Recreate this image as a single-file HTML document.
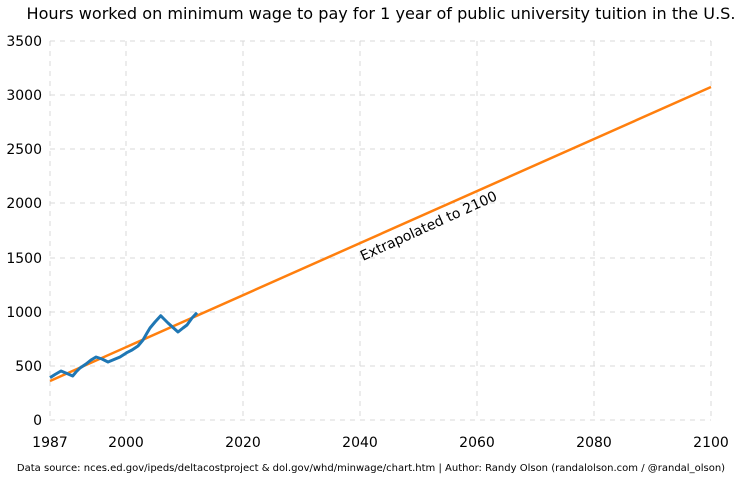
<!DOCTYPE html>
<html><head><meta charset="utf-8"><style>body{margin:0;background:#fff}</style></head><body>
<svg width="743" height="480" xmlns="http://www.w3.org/2000/svg" font-family="DejaVu Sans, Liberation Sans, sans-serif">
<rect width="743" height="480" fill="#fff"/>
<g stroke="#d8d8d8" stroke-dasharray="5,5" stroke-width="1">
<line x1="50" y1="41" x2="50" y2="420"/><line x1="126" y1="41" x2="126" y2="420"/><line x1="243" y1="41" x2="243" y2="420"/><line x1="360" y1="41" x2="360" y2="420"/><line x1="477" y1="41" x2="477" y2="420"/><line x1="594" y1="41" x2="594" y2="420"/><line x1="711" y1="41" x2="711" y2="420"/>
<line x1="50" y1="41" x2="711" y2="41"/><line x1="50" y1="95" x2="711" y2="95"/><line x1="50" y1="149" x2="711" y2="149"/><line x1="50" y1="203" x2="711" y2="203"/><line x1="50" y1="258" x2="711" y2="258"/><line x1="50" y1="312" x2="711" y2="312"/><line x1="50" y1="366" x2="711" y2="366"/><line x1="50" y1="420" x2="711" y2="420"/>
</g>
<g font-size="14" fill="#000" text-anchor="end">
<text x="42" y="46">3500</text><text x="42" y="100">3000</text><text x="42" y="154">2500</text><text x="42" y="208">2000</text><text x="42" y="263">1500</text><text x="42" y="317">1000</text><text x="42" y="371">500</text><text x="42" y="425">0</text>
</g>
<g font-size="14" fill="#000" text-anchor="middle">
<text x="50" y="447">1987</text><text x="126" y="447">2000</text><text x="243" y="447">2020</text><text x="360" y="447">2040</text><text x="477" y="447">2060</text><text x="594" y="447">2080</text><text x="711" y="447">2100</text>
</g>
<line x1="50" y1="381" x2="711" y2="87" stroke="#ff7f0e" stroke-width="2.5"/>
<polyline fill="none" stroke="#1f77b4" stroke-width="3" stroke-linejoin="round" points="50,377.7 55,374.5 61,371 67,373.5 72.7,376 76,372 80,368 86,364 91,360 96,357 102,359 108,362 114,359.5 120,357 126.7,352.7 132,350 138,346 143,340 147,333 150,328 155,322 160.7,315.7 164,319 168,323 173,327.5 178,332 183,328 187,325 192,318 197,312.7"/>
<text x="0" y="0" font-size="14" fill="#000" transform="translate(363,261) rotate(-24.5)">Extrapolated to 2100</text>
<text x="381" y="19" font-size="16" fill="#000" text-anchor="middle" textLength="709" lengthAdjust="spacingAndGlyphs">Hours worked on minimum wage to pay for 1 year of public university tuition in the U.S.</text>
<text x="371" y="471" font-size="10" fill="#000" text-anchor="middle">Data source: nces.ed.gov/ipeds/deltacostproject &amp; dol.gov/whd/minwage/chart.htm | Author: Randy Olson (randalolson.com / @randal_olson)</text>
</svg>
</body></html>
